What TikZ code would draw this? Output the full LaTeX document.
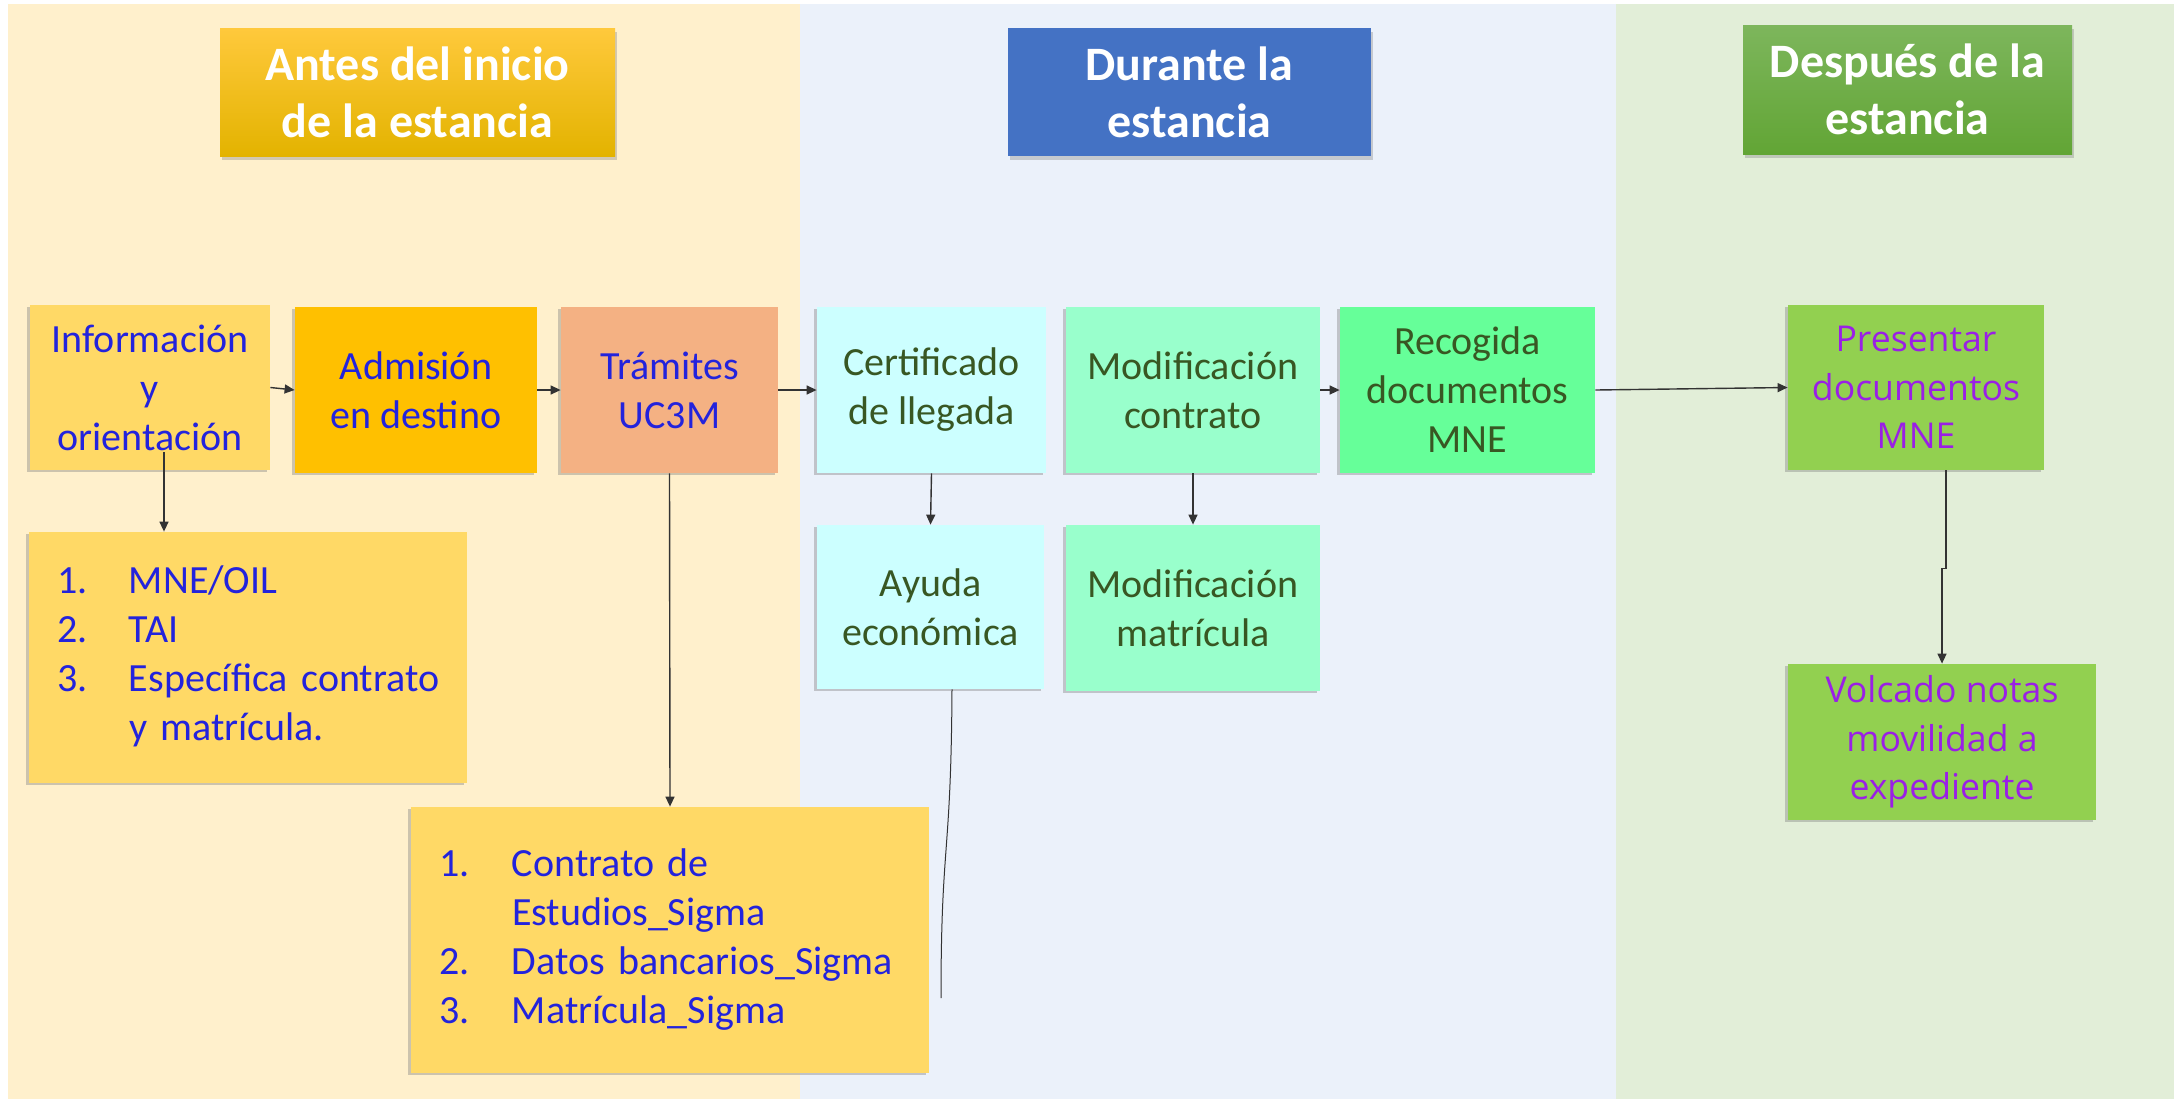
\documentclass[tikz,border=0pt]{standalone}
\usepackage{fontspec}
\setmainfont{Carlito}
\newfontfamily\osans{Open Sans}
\usetikzlibrary{shadows,arrows.meta}
\definecolor{panA}{HTML}{FFF0CC}
\definecolor{panB}{HTML}{EBF1FA}
\definecolor{panC}{HTML}{E2EED8}
\definecolor{goldTop}{HTML}{FFC93C}
\definecolor{goldBot}{HTML}{E3B300}
\definecolor{blueT}{HTML}{4472C4}
\definecolor{greenTop}{HTML}{7DB65C}
\definecolor{greenBot}{HTML}{62A535}
\definecolor{lightgold}{HTML}{FFD966}
\definecolor{gold}{HTML}{FFC000}
\definecolor{salmon}{HTML}{F4B183}
\definecolor{cyanbox}{HTML}{CCFFFF}
\definecolor{mint}{HTML}{99FFCC}
\definecolor{greenbox}{HTML}{66FF99}
\definecolor{limebox}{HTML}{92D050}
\definecolor{txtblue}{HTML}{2323DC}
\definecolor{txtgreen}{HTML}{385723}
\definecolor{txtpurple}{HTML}{9A1FE6}
\definecolor{linecol}{HTML}{333333}
\tikzset{
  titlebox/.style={rectangle, align=center, text=white, inner sep=2pt,
    font=\bfseries\fontsize{24}{28.5}\selectfont,
    drop shadow={shadow xshift=0.8pt, shadow yshift=-2pt, opacity=0.35}},
  box/.style={rectangle, align=center, inner sep=2pt,
    font=\fontsize{20}{24.5}\selectfont,
    drop shadow={shadow xshift=-1.5pt, shadow yshift=-1.2pt, opacity=0.4}},
  bluebox/.style={box, text=txtblue},
  greenbox/.style={box, text=txtgreen},
  purplebox/.style={box, text=txtpurple, font=\osans\fontsize{17.8}{24.3}\selectfont},
  listbox/.style={box, fill=lightgold, text=txtblue, align=left, inner xsep=14pt},
  arr/.style={draw=linecol, line width=0.7pt, -{Triangle[length=5pt,width=4.5pt]}},
  conn/.style={draw=linecol, line width=0.5pt}
}
\begin{document}
\begin{tikzpicture}[x=0.5pt, y=-0.5pt]
\useasboundingbox (0,0) rectangle (2174,1099);
\fill[white] (0,0) rectangle (2174,1099);
% panels
\fill[panA] (8,4) rectangle (800,1099);
\fill[panB] (800,4) rectangle (1616,1099);
\fill[panC] (1616,4) rectangle (2174,1099);
% titles
\node[titlebox, top color=goldTop, bottom color=goldBot, minimum width=197.5pt, minimum height=64pt] (antes) at (417.5,92) {Antes del inicio\\de la estancia};
\node[titlebox, fill=blueT, minimum width=181.5pt, minimum height=64pt] (durante) at (1189.5,92) {Durante la\\estancia};
\node[titlebox, top color=greenTop, bottom color=greenBot, minimum width=164.5pt, minimum height=64.5pt] (despues) at (1907.5,89.5) {Después de la\\estancia};
% row 1
\node[bluebox, fill=lightgold, minimum width=120pt, minimum height=82.5pt] (info) at (150,387.5) {Información\\y\\orientación};
\node[bluebox, fill=gold, minimum width=121pt, minimum height=83pt] (admision) at (416,390) {Admisión\\en destino};
\node[bluebox, fill=salmon, minimum width=108.5pt, minimum height=83pt] (tramites) at (669.5,390) {Trámites\\UC3M};
\node[greenbox, fill=cyanbox, minimum width=114.5pt, minimum height=83pt] (cert) at (931.5,390) {Certificado\\de llegada};
\node[greenbox, fill=mint, minimum width=127pt, minimum height=83pt] (modc) at (1193,390) {Modificación\\contrato};
\node[greenbox, fill=greenbox, minimum width=127.5pt, minimum height=83pt] (recog) at (1467.5,390) {Recogida\\documentos\\MNE};
\node[purplebox, fill=limebox, minimum width=128pt, minimum height=82.5pt] (present) at (1916,387.5) {Presentar\\documentos\\MNE};
% row 2
\node[listbox, minimum width=219pt, minimum height=125.5pt, text width=191pt] (list1) at (248,657.5)
  {\begin{tabular}{@{}p{36pt}@{}l@{}}1. & MNE/OIL\\2. & TAI\\3. & Específica contrato\\ & y matrícula.\end{tabular}};
\node[greenbox, fill=cyanbox, minimum width=113.5pt, minimum height=82pt] (ayuda) at (930.5,607) {Ayuda\\económica};
\node[greenbox, fill=mint, minimum width=127pt, minimum height=83pt] (modm) at (1193,608) {Modificación\\matrícula};
\node[purplebox, fill=limebox, minimum width=154pt, minimum height=78pt] (volcado) at (1942,742) {Volcado notas\\movilidad a\\expediente};
\node[listbox, minimum width=259pt, minimum height=133pt, text width=231pt] (list2) at (670,940)
  {\begin{tabular}{@{}p{36.5pt}@{}l@{}}1. & Contrato de\\ & Estudios\_Sigma\\2. & Datos bancarios\_Sigma\\3. & Matrícula\_Sigma\end{tabular}};
\coordinate (ayudaEnd) at (941,998);
% connectors
\draw[arr] (info.east) -- (admision.west);
\draw[arr] (admision.east) -- (tramites.west);
\draw[arr] (tramites.east) -- (cert.west);
\draw[arr] (modc.east) -- (recog.west);
\draw[arr] (recog.east) -- (present.west);
\draw[arr] ([xshift=7pt,yshift=9pt]info.south) -- ([xshift=7pt]info.south |- list1.north);
\draw[arr] (tramites.south) -- (list2.north);
\draw[arr] (cert.south) -- (ayuda.north);
\draw[arr] (modc.south) -- (modm.north);
\draw[arr] ([xshift=15pt]present.south) -- ++(0pt,-49pt) -| (volcado.north);
\draw[conn] ([xshift=10.75pt]ayuda.south) .. controls (951,860) and (941,840) .. (ayudaEnd);
\end{tikzpicture}
\end{document}
